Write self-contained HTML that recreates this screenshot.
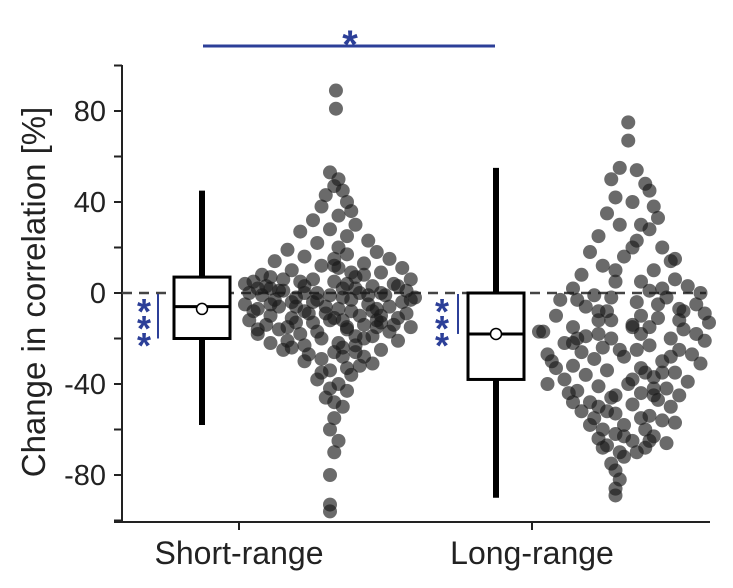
<!DOCTYPE html>
<html><head><meta charset="utf-8">
<style>
html,body{margin:0;padding:0;background:#fff;}
svg{display:block;font-family:"Liberation Sans",Arial,sans-serif;}
</style></head>
<body>
<svg id="chart" width="733" height="588" viewBox="0 0 733 588" xmlns="http://www.w3.org/2000/svg">
<g id="axes"></g>
<g id="marks"></g>
<text transform="translate(45,292) rotate(-90)" text-anchor="middle" font-size="33" fill="#222">Change in correlation [%]</text>
</svg>
<script>
const categories = ["Short-range", "Long-range"];
const yTicks = [80, 40, 0, -40, -80];
const boxQ1 = [-20, -38];
const boxMedian = [-6, -18];
const boxQ3 = [7, 0];
const boxMean = [-7, -18];
const whiskerLow = [-58, -90];
const whiskerHigh = [45, 55];

const shortVals = [89,81,53,50,47,45,43,40,
38,36,34,32,30,28,27,25,23,22,20,
19,18,17,16,15,14,13,12,11,10,9,8,7,6,6,5,5,
4,4,3,3,2,2,1,1,0,0,0,-1,-1,-2,-2,-3,-3,-4,-4,-5,-5,
-6,-6,-7,-7,-8,-8,-9,-9,-10,-10,-11,-11,-12,-12,-13,-13,-14,-14,-15,-15,
-16,-16,-17,-18,-19,-20,-21,-22,-23,-24,-25,-26,-27,-28,
-30,-32,-34,-36,-38,-40,-43,-46,-50,-55,-60,-65,-70,-80,-93,-96,
2,-3,-8,-12,5,-18,-22,8,0,-6,12,-15,-25,-1,3,
-2,-4,-7,-9,-11,-14,-16,-19,-21,-24,1,3,6,9,-1,-5,-10,-13,-17,-20,-26,-29,-33,0,4,-3,-8,-12,-6,2,11,15,-23,-28,-35,-42,-48,-31,7,-15];
const shortJitter = [.07,.07,0,.1,.05,.15,-.05,.2,
-.1,.25,.1,-.2,.3,0,-.35,.2,.45,-.15,.1,
-.5,.55,.2,-.3,.7,-.65,.4,-.1,.85,-.45,.6,-.8,.3,-.55,.95,.05,-.9,
-1,.75,-.3,.5,-.7,.15,.9,-.55,-.95,.35,-.15,.65,-.8,1,-.4,.25,-.65,.85,-.2,.45,-1,
.7,-.6,.1,-.85,.5,-.3,.9,-.05,-.7,.35,.8,-.45,.15,-.95,.6,-.2,.4,-.75,.95,-.5,
.2,-.6,.7,-.35,.5,-.1,.8,-.7,.3,-.45,.6,.05,-.25,.4,
-.3,.35,0,.25,-.15,.1,.2,-.05,.15,.05,0,.1,.05,0,0,0,
.3,-.15,.25,.55,-.35,-.85,.1,.4,.6,-.4,.05,.2,-.55,0,-.75,
.15,-.45,.55,-.25,.05,.75,-.85,.3,-.5,.15,-.6,.8,-.2,.25,.45,-.7,.6,-.4,-.15,.4,.3,-.1,.2,-.3,.2,.95,-.9,0,-.05,-.85,.1,.05,-.3,.15,-.1,0,.05,.5,-.7,.55];

const longVals = [75,67,55,54,50,48,45,42,40,38,
35,33,30,28,25,23,20,18,16,14,12,10,
8,6,5,3,2,1,0,-1,-2,-3,-4,-5,-6,-7,-8,-9,
-10,-11,-12,-13,-14,-15,-16,-17,-17,-18,-18,-19,-20,-20,-21,-22,-23,-24,-25,
-26,-27,-28,-29,-30,-31,-32,-33,-34,-35,-36,-37,-38,-39,-40,
-41,-42,-43,-44,-45,-46,-47,-48,-49,-50,-52,-54,-55,-56,-58,-60,
-62,-63,-64,-65,-66,-67,-68,-70,-72,-75,-78,-82,-86,-89,
-5,-15,-25,-35,-45,-12,2,-30,-52,-58,-8,-40,15,-20,-65,
-3,-10,-22,-28,-33,-38,-44,-50,-55,-60,-15,-25,-18,5,10,-42,-48,-57,-63,-70,-12,-2,-35,20,30,-27,-45,-8,-53,-68];
const longJitter = [.05,.05,-.05,.15,-.15,.25,.3,-.1,.1,.35,
-.2,.4,-.05,.3,-.3,.15,.45,-.4,0,.55,-.25,.35,
-.5,.6,-.1,.75,-.6,.3,.9,-.35,.5,-.75,.15,.85,-.45,.65,-.2,.95,
-.8,.4,-.3,1,.1,-.6,.7,-1,-.95,.2,.85,-.45,.55,-.15,.95,-.7,.3,-.25,.65,
-.5,.8,0,-.35,.45,.9,-.6,.2,-.2,.6,-.45,.35,-.7,.75,.05,
-.3,.5,-.55,.2,.65,-.15,.4,-.4,.1,.55,-.2,.3,-.35,.45,0,.25,
-.1,.35,-.3,.1,.5,-.2,.25,-.05,0,-.15,-.1,-.05,-.1,-.1,
.4,.1,.15,.25,-.1,-.15,.45,-.85,-.5,-.4,-.3,-.9,.6,-.55,.3,
-.55,.2,-.6,.55,-.8,.1,-.65,-.3,.2,-.25,.3,-.05,-.3,.2,-.1,.35,-.6,.6,0,.15,.65,-.15,.45,.1,.2,-.9,.35,.7,-.1,-.25];

const NS = "http://www.w3.org/2000/svg";
const axes = document.getElementById("axes");
const marks = document.getElementById("marks");
const y = v => 293 - v * 2.275;
const tickX = [239, 532];
const boxX = [202, 496];
const cloudX = [330, 624];
const halfW = 85;
function mk(tag, attrs, parent){ const e=document.createElementNS(NS,tag); for(const k in attrs) e.setAttribute(k,attrs[k]); parent.appendChild(e); return e; }

let el = mk("line",{x1:122,y1:65,x2:122,y2:522,stroke:"#222","stroke-width":2},axes);


el = mk("line",{x1:114,y1:522,x2:710,y2:522,stroke:"#222","stroke-width":2},axes);


for(let v=-100; v<=100; v+=20){
  const t = mk("line",{x1:114,y1:y(v),x2:122,y2:y(v),stroke:"#222","stroke-width":2},axes);
  
  
}
yTicks.forEach(v=>{
  const t = mk("text",{x:106,y:y(v)+10,"text-anchor":"end","font-size":29,fill:"#222"},axes);
  t.textContent = v;
  
  
});
categories.forEach((c,i)=>{
  const t = mk("line",{x1:tickX[i],y1:522,x2:tickX[i],y2:530,stroke:"#222","stroke-width":2},axes);
  
  
  const l = mk("text",{x:tickX[i],y:564,"text-anchor":"middle","font-size":32,fill:"#222"},axes);
  l.textContent = c;
  
  
});
el = mk("line",{x1:122,y1:y(0),x2:706,y2:y(0),stroke:"#444","stroke-width":2.5,"stroke-dasharray":"10,7"},marks);



function drawCloud(vals, jit, i){
  vals.forEach((v,k)=>{
    const c = mk("circle",{cx:cloudX[i]+jit[k]*halfW,cy:y(v),r:7,fill:"#1a1a1a","fill-opacity":0.65},marks);
    
    
  });
}
drawCloud(shortVals, shortJitter, 0);
drawCloud(longVals, longJitter, 1);

categories.forEach((c,i)=>{
  const bx = boxX[i];
  let w = mk("line",{x1:bx,y1:y(whiskerHigh[i]),x2:bx,y2:y(boxQ3[i]),stroke:"#000","stroke-width":6},marks);
  
  
  w = mk("line",{x1:bx,y1:y(boxQ1[i]),x2:bx,y2:y(whiskerLow[i]),stroke:"#000","stroke-width":6},marks);
  
  
  const b = mk("rect",{x:bx-28,y:y(boxQ3[i]),width:56,height:y(boxQ1[i])-y(boxQ3[i]),fill:"#fff",stroke:"#000","stroke-width":3},marks);
  
  
  const m = mk("line",{x1:bx-28,y1:y(boxMedian[i]),x2:bx+28,y2:y(boxMedian[i]),stroke:"#000","stroke-width":3},marks);
  
  
  const mc = mk("circle",{cx:bx,cy:y(boxMean[i]),r:5.5,fill:"#fff",stroke:"#000","stroke-width":1.5},marks);
  
  
});

const blue = "#2c3f98";
el = mk("line",{x1:203,y1:46,x2:495,y2:46,stroke:blue,"stroke-width":3},marks);


el = mk("text",{x:350,y:58,"text-anchor":"middle","font-size":40,"font-weight":"bold",fill:blue},marks);
el.textContent = "*";


[[158,144,-20],[458,442,-18]].forEach(([lx,sx,v])=>{
  const l = mk("line",{x1:lx,y1:y(0)+1,x2:lx,y2:y(v),stroke:blue,"stroke-width":2},marks);
  
  
  for(let k=0;k<3;k++){
    const s = mk("text",{x:sx,y:y(0)+31+k*17,"text-anchor":"middle","font-size":36,"font-weight":"bold",fill:blue},marks);
    s.textContent = "*";
    
    
  }
});
</script>
</body></html>
